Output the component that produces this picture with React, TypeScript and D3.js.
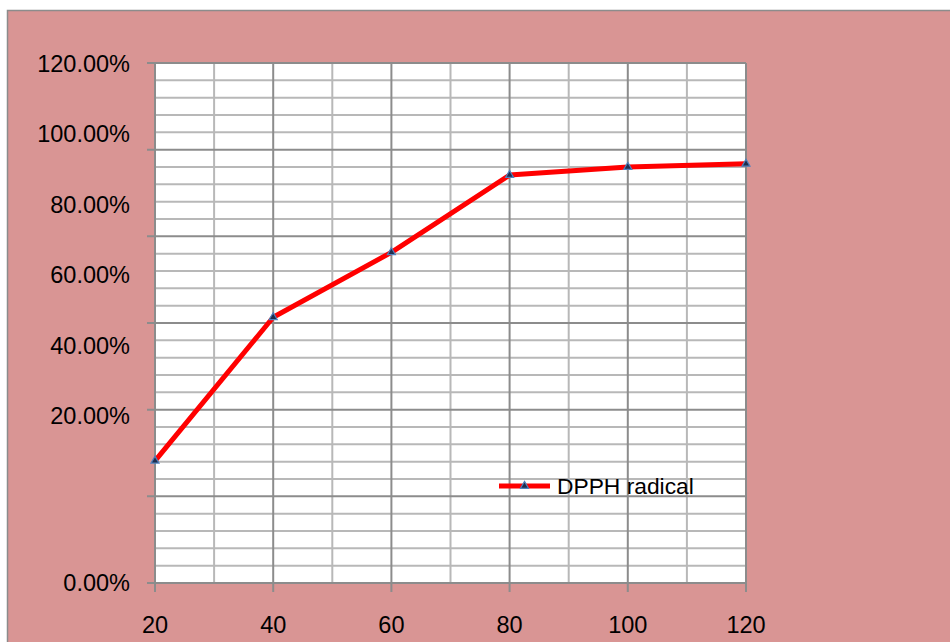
import React from "react";
import * as d3 from "d3";

const concentrations = [20, 40, 60, 80, 100, 120];
const dpphValues = [7.3, 48.0, 66.4, 88.3, 90.6, 91.5];
const yTickLabels = [120, 100, 80, 60, 40, 20];
const zeroLabel = "0.00%";
const seriesName = "DPPH radical";

const W = 950;
const H = 642;
const plot = { left: 155, top: 63, right: 746, bottom: 583 };

export default function App() {
  const x = d3.scaleLinear().domain([20, 120]).range([plot.left, plot.right]);
  // value scale of the labelled axis
  const y = d3.scaleLinear().domain([20, 120]).range([416, 63.3]);
  // grid scale: 6 major divisions, 5 minor each
  const g = d3.scaleLinear().domain([0, 30]).range([plot.bottom, plot.top]);

  const minorY = d3.range(0, 31);
  const majorY = d3.range(0, 31, 5);
  const minorX = d3.range(20, 121, 10);
  const majorX = d3.range(20, 121, 20);

  const line = d3
    .line<number>()
    .x((_, i) => x(concentrations[i]))
    .y((v) => y(v));

  const tri = d3.symbol().type(d3.symbolTriangle).size(28)();

  const font = "'Liberation Sans', Arial, sans-serif";

  return (
    <svg
      width={W}
      height={H}
      style={{ position: "absolute", left: 0, top: 0, background: "#fff" }}
    >
      <rect x={7.5} y={10.5} width={960} height={700} fill="#d99594" stroke="#8c8c8c" strokeWidth={1.5} />
      <rect x={plot.left} y={plot.top} width={plot.right - plot.left} height={plot.bottom - plot.top} fill="#ffffff" />
      {/* minor grid */}
      {minorY.filter((v) => v % 5 !== 0).map((v) => (
        <line key={"my" + v} x1={plot.left} x2={plot.right} y1={g(v)} y2={g(v)} stroke="#b8b8b8" strokeWidth={2} />
      ))}
      {minorX.filter((v) => v % 20 !== 0).map((v) => (
        <line key={"mx" + v} x1={x(v)} x2={x(v)} y1={plot.top} y2={plot.bottom} stroke="#b8b8b8" strokeWidth={2} />
      ))}
      {/* major grid */}
      {majorY.map((v) => (
        <line key={"My" + v} x1={plot.left - 8} x2={plot.right} y1={g(v)} y2={g(v)} stroke="#8c8c8c" strokeWidth={2} />
      ))}
      {majorX.map((v) => (
        <line key={"Mx" + v} x1={x(v)} x2={x(v)} y1={plot.top} y2={plot.bottom + 9} stroke="#8c8c8c" strokeWidth={2} />
      ))}
      {/* y labels */}
      {yTickLabels.map((v) => (
        <text key={"yl" + v} x={130} y={y(v)} dy="0.36em" textAnchor="end" fontFamily={font} fontSize={23.5} fill="#000">
          {v.toFixed(2) + "%"}
        </text>
      ))}
      <text x={130} y={plot.bottom} dy="0.36em" textAnchor="end" fontFamily={font} fontSize={23.5} fill="#000">
        {zeroLabel}
      </text>
      {/* x labels */}
      {concentrations.map((c) => (
        <text key={"xl" + c} x={x(c)} y={633} textAnchor="middle" fontFamily={font} fontSize={23.5} fill="#000">
          {c}
        </text>
      ))}
      {/* series */}
      <path d={line(dpphValues) || ""} fill="none" stroke="#ff0000" strokeWidth={5} strokeLinejoin="round" />
      {dpphValues.map((v, i) => (
        <path key={"m" + i} d={tri || ""} transform={`translate(${x(concentrations[i])},${y(v)})`} fill="#1f2d4d" stroke="#4f81bd" strokeWidth={1.2} />
      ))}
      {/* legend */}
      <line x1={499} x2={550} y1={486} y2={486} stroke="#ff0000" strokeWidth={5} />
      <path d={tri || ""} transform="translate(524.5,486)" fill="#1f2d4d" stroke="#4f81bd" strokeWidth={1.2} />
      <text x={557} y={486} dy="0.36em" fontFamily={font} fontSize={22.8} fill="#000">
        {seriesName}
      </text>
    </svg>
  );
}
